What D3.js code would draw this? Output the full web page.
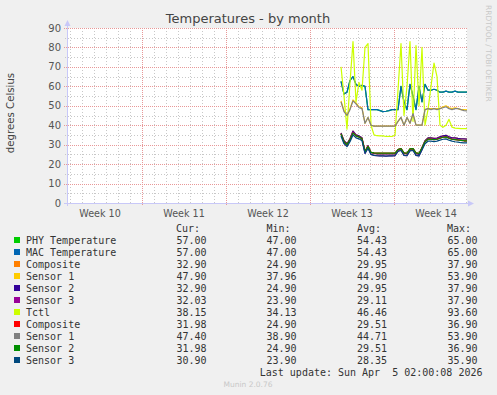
<!DOCTYPE html>
<html>
<head>
<meta charset="utf-8">
<script src="https://cdn.jsdelivr.net/npm/d3@7"></script>
<style>
    body { margin: 0; background: #f0f0f0; }
    svg { display: block; font-family: "DejaVu Sans", sans-serif; }
    .legend text { font-family: "DejaVu Sans Mono", monospace; font-size: 10px; fill: #333; white-space: pre; }
</style>
</head>
<body>
<svg id="chart" width="497" height="395"></svg>
<script>
// samples every 6h starting Wed Mar 25 14:00
const sampleStart = Date.UTC(2026, 2, 25, 14);
const sampleStepHours = 6;

const phyTemp = [62.5, 56, 57, 63, 65, 61, 60, 60.5, 60, 48, 48, 48, 48, 47.5, 47, 47.2, 47.5, 48, 48, 48, 60, 52, 48, 61, 55, 48, 60, 52, 61, 58, 58, 58.5, 58, 57, 57, 57.5, 57, 57, 57.5, 57, 57, 57, 57];
const macTemp = [62.5, 56, 57, 63, 65, 61, 60, 60.5, 60, 48, 48, 48, 48, 47.5, 47, 47.2, 47.5, 48, 48, 48, 60, 52, 48, 61, 55, 48, 60, 52, 61, 58, 58, 58.5, 58, 57, 57, 57.5, 57, 57, 57.5, 57, 57, 57, 57];
const composite1 = [36, 32, 30.5, 33, 37, 35, 34.5, 33.5, 26.5, 29.5, 26, 25.5, 25.3, 25.3, 25.2, 25.2, 25.2, 25.2, 25.3, 27.5, 28, 25.5, 25.3, 27.8, 28, 25.5, 25, 28.5, 32, 33.5, 33.5, 33.2, 33.4, 34, 34.5, 34.8, 34, 33.5, 33.5, 33.2, 33, 33, 32.9];
const sensor1a = [52.5, 47.5, 45.5, 48.5, 53, 51.5, 49.5, 49, 41, 44, 40, 39.5, 39.5, 39.5, 39.5, 39.5, 39.5, 39.5, 39.5, 42, 44, 40, 44, 41, 46, 40, 40, 40, 48, 48.5, 48.5, 48.5, 48.5, 48.5, 49.5, 50, 49, 48.5, 49, 48.5, 48, 48, 47.9];
const sensor2a = [36, 32, 30.5, 33, 37, 35, 34.5, 33.5, 26.5, 29.5, 26, 25.5, 25.3, 25.3, 25.2, 25.2, 25.2, 25.2, 25.3, 27.5, 28, 25.5, 25.3, 27.8, 28, 25.5, 25, 28.5, 32, 33.5, 33.5, 33.2, 33.4, 34, 34.5, 34.8, 34, 33.5, 33.5, 33.2, 33, 33, 32.9];
const sensor3a = [35.5, 31, 29.5, 32.5, 36.5, 34.5, 34, 33, 25.5, 28.5, 25, 24.5, 24.3, 24.2, 24.2, 24.1, 24.2, 24.2, 24.3, 26.8, 27.5, 24.5, 24.3, 27, 27.5, 24.5, 24.2, 27.5, 31.5, 33, 33, 32.8, 33, 33.5, 34, 34.2, 33.5, 33, 32.8, 32.5, 32.2, 32, 32];
const tctl = [70, 55, 38, 62, 83, 52, 62, 58, 80, 82, 40, 35, 34.6, 34.5, 34.5, 34.2, 34.3, 34.2, 35, 58, 82, 45, 60, 83, 42, 81, 50, 80, 40, 48, 60, 72, 65, 40, 39, 40, 43, 39, 38.5, 38.4, 38.3, 38.2, 38.2];
const composite2 = [35.5, 31.5, 30, 32.5, 36, 34.5, 34, 33, 26.5, 29, 26, 25.8, 25.7, 25.7, 25.6, 25.6, 25.7, 25.6, 25.7, 27.5, 28, 25.8, 25.7, 27.8, 28, 25.8, 25.5, 28.3, 31.5, 32.8, 32.8, 32.6, 32.8, 33.3, 33.8, 34, 33.3, 32.8, 32.6, 32.4, 32.2, 32, 32];
const sensor1b = [52, 47, 45, 48, 52.5, 51, 49, 48.5, 41, 44, 40, 39.5, 39.5, 39.5, 39.5, 39.5, 39.5, 39.5, 39.5, 42, 44, 40, 44, 41, 46, 40, 40, 40, 48, 48.5, 48, 48.5, 48, 48.5, 49, 49.5, 48.5, 48, 48.5, 48.5, 48, 47.5, 47.4];
const sensor2b = [35.5, 31.5, 30, 32.5, 36, 34.5, 34, 33, 26.5, 29, 26, 25.8, 25.7, 25.7, 25.6, 25.6, 25.7, 25.6, 25.7, 27.5, 28, 25.8, 25.7, 27.8, 28, 25.8, 25.5, 28.3, 31.5, 32.8, 32.8, 32.6, 32.8, 33.3, 33.8, 34, 33.3, 32.8, 32.6, 32.4, 32.2, 32, 32];
const sensor3b = [34.5, 30.5, 29, 31.5, 35, 33.5, 33, 32, 25.5, 28, 25, 24.5, 24.3, 24.2, 24.2, 24.1, 24.2, 24.2, 24.3, 26.5, 27, 24.5, 24.3, 26.8, 27, 24.5, 24.2, 27.3, 30.5, 31.8, 31.8, 31.6, 31.8, 32.3, 32.8, 33, 32.3, 31.8, 31.5, 31.3, 31, 30.9, 30.9];

const seriesNames = ["PHY Temperature", "MAC Temperature", "Composite", "Sensor 1", "Sensor 2", "Sensor 3", "Tctl", "Composite", "Sensor 1", "Sensor 2", "Sensor 3"];
const seriesColors = ["#00cc00", "#0066b3", "#ff8000", "#ffcc00", "#330099", "#990099", "#ccff00", "#ff0000", "#808080", "#008f00", "#00487d"];
const seriesValues = [phyTemp, macTemp, composite1, sensor1a, sensor2a, sensor3a, tctl, composite2, sensor1b, sensor2b, sensor3b];

const curValues = ["57.00", "57.00", "32.90", "47.90", "32.90", "32.03", "38.15", "31.98", "47.40", "31.98", "30.90"];
const minValues = ["47.00", "47.00", "24.90", "37.96", "24.90", "23.90", "34.13", "24.90", "38.90", "24.90", "23.90"];
const avgValues = ["54.43", "54.43", "29.95", "44.90", "29.95", "29.11", "46.46", "29.51", "44.71", "29.51", "28.35"];
const maxValues = ["65.00", "65.00", "37.90", "53.90", "37.90", "37.90", "93.60", "36.90", "53.90", "36.90", "35.90"];

const weekLabels = ["Week 10", "Week 11", "Week 12", "Week 13", "Week 14"];
const yTicks = [0, 10, 20, 30, 40, 50, 60, 70, 80, 90];

const endTime = Date.UTC(2026, 3, 5, 2, 0, 8);
const HOUR = 3600 * 1000;

const plot = { left: 67, right: 467, top: 28, bottom: 203 };

const svg = d3.select("#chart");

const xScale = d3.scaleUtc()
    .domain([new Date(endTime - 800 * HOUR), new Date(endTime)])
    .range([plot.left, plot.right]);

const yScale = d3.scaleLinear()
    .domain([0, 90])
    .range([plot.bottom, plot.top]);

// white canvas
svg.append("rect")
    .attr("x", plot.left).attr("y", plot.top)
    .attr("width", plot.right - plot.left).attr("height", plot.bottom - plot.top)
    .attr("fill", "#fff");

// title + side labels
svg.append("text")
    .attr("x", 248).attr("y", 23)
    .attr("text-anchor", "middle")
    .style("font-size", "13px").attr("fill", "#444")
    .text("Temperatures - by month");

svg.append("text")
    .attr("transform", "translate(14,113) rotate(-90)")
    .attr("text-anchor", "middle")
    .style("font-size", "10.2px").attr("fill", "#444")
    .text("degrees Celsius");

svg.append("text")
    .attr("transform", "translate(486,5) rotate(90)")
    .attr("text-anchor", "start")
    .style("font-size", "7.5px").attr("fill", "#c8c8c8")
    .text("RRDTOOL / TOBI OETIKER");

// grid
const [t0, t1] = xScale.domain();
const days = d3.utcDay.range(t0, t1);
const mondays = d3.utcMonday.range(t0, t1);
const weekStarts = d3.utcMonday.range(d3.utcMonday.floor(t0), t1);
const grid = svg.append("g").attr("class", "grid");

grid.selectAll(".vminor")
    .data(days.filter(d => d.getUTCDay() !== 1))
    .join("line")
    .attr("x1", d => Math.round(xScale(d)) + 0.5).attr("x2", d => Math.round(xScale(d)) + 0.5)
    .attr("y1", plot.top).attr("y2", plot.bottom + 2)
    .attr("stroke", "#c8c8c8").attr("stroke-dasharray", "1,2");

grid.selectAll(".hminor")
    .data(d3.range(5, 90, 10))
    .join("line")
    .attr("x1", plot.left - 2).attr("x2", plot.right)
    .attr("y1", d => Math.round(yScale(d)) + 0.5).attr("y2", d => Math.round(yScale(d)) + 0.5)
    .attr("stroke", "#c8c8c8").attr("stroke-dasharray", "1,2");

grid.selectAll(".vmajor")
    .data(mondays)
    .join("line")
    .attr("x1", d => Math.round(xScale(d)) + 0.5).attr("x2", d => Math.round(xScale(d)) + 0.5)
    .attr("y1", plot.top).attr("y2", plot.bottom + 3)
    .attr("stroke", "#e89898").attr("stroke-dasharray", "1,1");

grid.selectAll(".hmajor")
    .data(yTicks.filter(d => d > 0))
    .join("line")
    .attr("x1", plot.left - 3).attr("x2", plot.right)
    .attr("y1", d => Math.round(yScale(d)) + 0.5).attr("y2", d => Math.round(yScale(d)) + 0.5)
    .attr("stroke", "#e89898").attr("stroke-dasharray", "1,1");

// tick labels
svg.append("g").selectAll("text")
    .data(yTicks)
    .join("text")
    .attr("x", 61).attr("y", d => yScale(d) + 3.5)
    .attr("text-anchor", "end")
    .style("font-size", "10px").attr("fill", "#555")
    .text(d => d);

// week labels sit in the middle of each week
svg.append("g").selectAll("text")
    .data(weekStarts.slice(0, weekLabels.length))
    .join("text")
    .attr("x", d => xScale(new Date(+d + 3.5 * 24 * HOUR)))
    .attr("y", 217)
    .attr("text-anchor", "middle")
    .style("font-size", "9.6px").attr("fill", "#555")
    .text((d, i) => weekLabels[i]);

// axes with arrows
const axisColor = "#c8c8f8";
svg.append("line")
    .attr("x1", plot.left + 0.5).attr("x2", plot.left + 0.5)
    .attr("y1", plot.bottom + 3).attr("y2", 24)
    .attr("stroke", axisColor);
svg.append("line")
    .attr("x1", plot.left - 3).attr("x2", plot.right + 3)
    .attr("y1", plot.bottom + 0.5).attr("y2", plot.bottom + 0.5)
    .attr("stroke", axisColor);
svg.append("path")
    .attr("d", `M${plot.left + 0.5},20 L${plot.left + 3.5},26 L${plot.left - 2.5},26 Z`)
    .attr("fill", axisColor);
svg.append("path")
    .attr("d", `M${plot.right + 7},${plot.bottom + 0.5} L${plot.right + 1},${plot.bottom - 2.5} L${plot.right + 1},${plot.bottom + 3.5} Z`)
    .attr("fill", axisColor);

// data lines
const line = d3.line()
    .x((d, i) => xScale(new Date(sampleStart + i * sampleStepHours * HOUR)))
    .y(d => yScale(d));

svg.append("g")
    .attr("class", "lines")
    .selectAll("path")
    .data(seriesValues)
    .join("path")
    .attr("d", d => line(d))
    .attr("fill", "none")
    .attr("stroke", (d, i) => seriesColors[i])
    .attr("stroke-width", 1.2)
    .attr("stroke-linejoin", "round");

// legend
const legend = svg.append("g").attr("class", "legend");
const rowY = (i) => 243.5 + i * 12;

const headers = [["Cur:", 200], ["Min:", 290.5], ["Avg:", 381], ["Max:", 471]];
headers.forEach(([label, x]) => {
    legend.append("text").attr("x", x).attr("y", 231.5).attr("text-anchor", "end").text(label);
});

seriesNames.forEach((name, i) => {
    legend.append("rect")
        .attr("x", 14).attr("y", rowY(i) - 6.5)
        .attr("width", 6).attr("height", 6)
        .attr("fill", seriesColors[i]);
    legend.append("text").attr("x", 26).attr("y", rowY(i)).text(name);
    legend.append("text").attr("x", 206.5).attr("y", rowY(i)).attr("text-anchor", "end").text(curValues[i]);
    legend.append("text").attr("x", 296.5).attr("y", rowY(i)).attr("text-anchor", "end").text(minValues[i]);
    legend.append("text").attr("x", 387).attr("y", rowY(i)).attr("text-anchor", "end").text(avgValues[i]);
    legend.append("text").attr("x", 477.5).attr("y", rowY(i)).attr("text-anchor", "end").text(maxValues[i]);
});

legend.append("text")
    .attr("x", 482.5).attr("y", 375.5)
    .attr("text-anchor", "end")
    .text("Last update: Sun Apr  5 02:00:08 2026");

svg.append("text")
    .attr("x", 248).attr("y", 387)
    .attr("text-anchor", "middle")
    .style("font-size", "7.5px").attr("fill", "#c8c8c8")
    .text("Munin 2.0.76");
</script>
</body>
</html>
